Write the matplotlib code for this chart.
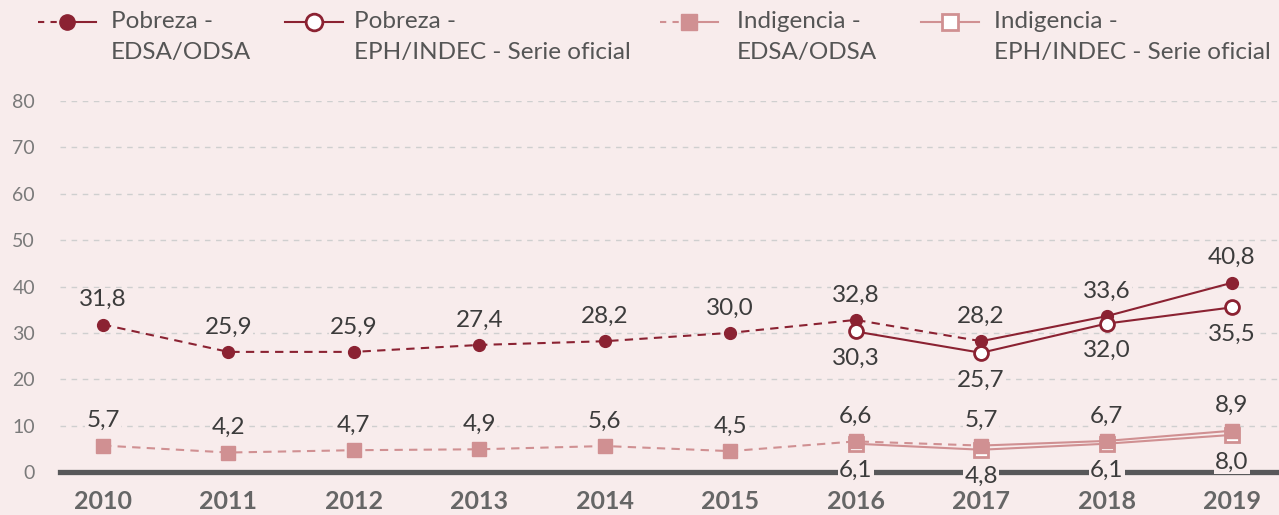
import numpy as np
import matplotlib.pyplot as plt
from matplotlib.lines import Line2D

plt.rcParams['font.family'] = ['Lato', 'DejaVu Sans']

# data
years = [2010, 2011, 2012, 2013, 2014, 2015, 2016, 2017, 2018, 2019]
pob_edsa = [31.8, 25.9, 25.9, 27.4, 28.2, 30.0, 32.8, 28.2, 33.6, 40.8]
pob_indec_years = [2016, 2017, 2018, 2019]
pob_indec = [30.3, 25.7, 32.0, 35.5]
ind_edsa = [5.7, 4.2, 4.7, 4.9, 5.6, 4.5, 6.6, 5.7, 6.7, 8.9]
ind_indec_years = [2016, 2017, 2018, 2019]
ind_indec = [6.1, 4.8, 6.1, 8.0]
yticks = [0, 10, 20, 30, 40, 50, 60, 70, 80]
legend_labels = ['Pobreza -\nEDSA/ODSA', 'Pobreza -\nEPH/INDEC - Serie oficial',
                 'Indigencia -\nEDSA/ODSA', 'Indigencia -\nEPH/INDEC - Serie oficial']

bg = '#f8ecec'
dark = '#8b2232'
pink = '#d09092'
txt = '#3c3c3c'
W, H = 1279, 515

fig = plt.figure(figsize=(W/100, H/100), dpi=100, facecolor=bg)
ax = fig.add_axes([60/W, 1-472/H, 1-60/W, (472-101)/H])
ax.set_facecolor(bg)

ax.set_ylim(0, 80)
ax.set_xlim(2010 - 43/125.4, 2019 + 47/125.4)
for v in yticks[1:]:
    ax.axhline(v, color='#cfcfcf', lw=1, ls=(0, (4, 4)), zorder=0)
ax.axhline(0, color='#58585a', lw=3.8, zorder=1, clip_on=False)

cut = years.index(2017)
dash = (0, (4, 3))
# pobreza edsa
ax.plot(years[:cut+1], pob_edsa[:cut+1], color=dark, lw=1.5, ls=dash, zorder=3)
ax.plot(years[cut:], pob_edsa[cut:], color=dark, lw=1.5, zorder=3)
ax.plot(years, pob_edsa, ls='none', marker='o', ms=8.5, color=dark, zorder=4)
# pobreza indec
ax.plot(pob_indec_years, pob_indec, color=dark, lw=1.5, marker='o', ms=10,
        mfc='white', mec=dark, mew=2, zorder=5)
# indigencia edsa
ax.plot(years[:cut+1], ind_edsa[:cut+1], color=pink, lw=1.5, ls=dash, zorder=3)
ax.plot(years[cut:], ind_edsa[cut:], color=pink, lw=1.5, zorder=3)
ax.plot(years, ind_edsa, ls='none', marker='s', ms=10, color=pink, zorder=5)
# indigencia indec
ax.plot(ind_indec_years, ind_indec, color=pink, lw=1.5, marker='s', ms=9.5,
        mfc='white', mec=pink, mew=2, zorder=4)

def lab(x, y, up):
    off = 18 if up else -19.5
    ax.annotate(f'{y:.1f}'.replace('.', ','), (x, y), xytext=(0, off),
                textcoords='offset points', ha='center', va='center',
                fontsize=17.5, color=txt, zorder=6,
                bbox=dict(boxstyle='square,pad=0.05', fc=bg, ec='none'))

for x, y in zip(years, pob_edsa):
    lab(x, y, True)
for x, y in zip(pob_indec_years, pob_indec):
    lab(x, y, False)
for x, y in zip(years, ind_edsa):
    lab(x, y, True)
for x, y in zip(ind_indec_years, ind_indec):
    lab(x, y, False)

ax.set_yticks(yticks)
ax.set_yticklabels([str(v) for v in yticks], fontsize=14, color='#7a7a7a')
ax.set_xticks(years)
ax.set_xticklabels([str(y) for y in years], fontsize=18, fontweight='bold', color='#666666')
ax.tick_params(axis='y', length=0, pad=18)
ax.tick_params(axis='x', length=0, pad=13)
for s in ax.spines.values():
    s.set_visible(False)

# legend drawn by hand: handle start, text start (pixels)
leg_styles = [
    dict(color=dark, marker='o', ms=11, mfc=dark, mec=dark, mew=1, dashed=True),
    dict(color=dark, marker='o', ms=12, mfc='white', mec=dark, mew=2, dashed=False),
    dict(color=pink, marker='s', ms=12, mfc=pink, mec=pink, mew=1, dashed=True),
    dict(color=pink, marker='s', ms=12, mfc='white', mec=pink, mew=2, dashed=False),
]
leg_hx = [38, 285, 660, 921]
leg_tx = [111, 354, 737, 994]
hw = 58
ly = 1 - 22/H
for st, hx, tx, label in zip(leg_styles, leg_hx, leg_tx, legend_labels):
    mid = hx + hw/2
    if st['dashed']:
        fig.add_artist(Line2D([hx/W, mid/W], [ly, ly], color=st['color'], lw=1.5,
                              ls=(0, (3, 3)), transform=fig.transFigure))
    else:
        fig.add_artist(Line2D([hx/W, mid/W], [ly, ly], color=st['color'], lw=1.5,
                              transform=fig.transFigure))
    fig.add_artist(Line2D([mid/W, (hx+hw)/W], [ly, ly], color=st['color'], lw=1.5,
                          transform=fig.transFigure))
    fig.add_artist(Line2D([mid/W], [ly], ls='none', marker=st['marker'], ms=st['ms'],
                          mfc=st['mfc'], mec=st['mec'], mew=st['mew'],
                          transform=fig.transFigure))
    l1, l2 = label.split('\n')
    fig.text(tx/W, 1 - 22/H, l1, fontsize=17.5, color='#555555', va='center', ha='left')
    fig.text(tx/W, 1 - 52/H, l2, fontsize=17.5, color='#555555', va='center', ha='left')

fig.savefig('out.png', dpi=100, facecolor=bg)
